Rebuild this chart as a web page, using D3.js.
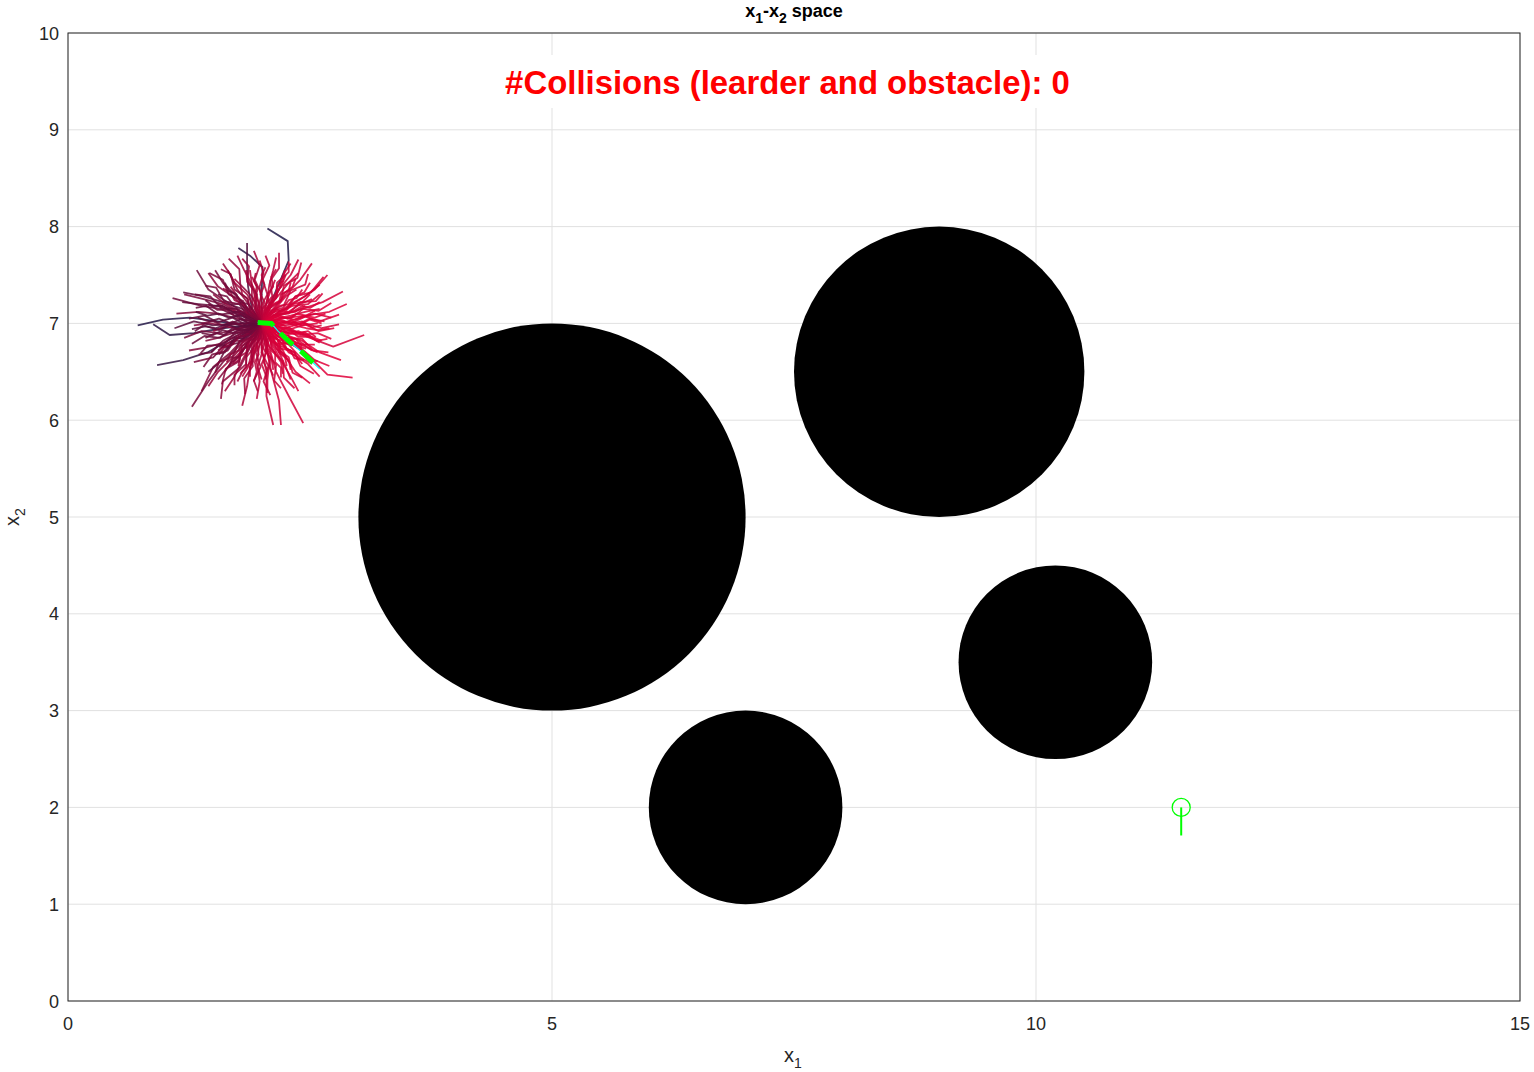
<!DOCTYPE html>
<html>
<head>
<meta charset="utf-8">
<script src="https://cdn.jsdelivr.net/npm/d3@7"></script>
<style>
html,body{margin:0;padding:0;background:#fff;}
svg{display:block;font-family:"Liberation Sans",Arial,Helvetica,sans-serif;}
</style>
</head>
<body>
<svg id="chart" width="1534" height="1072"></svg>
<script>
// ---------------- data ----------------
const xDomain = [0, 15];
const yDomain = [0, 10];
const xTicks = [0, 5, 10, 15];
const yTicks = [0, 1, 2, 3, 4, 5, 6, 7, 8, 9, 10];

// obstacles (circles)
const obstacleX = [5, 9, 10.2, 7];
const obstacleY = [5, 6.5, 3.5, 2];
const obstacleR = [2, 1.5, 1, 1];

// goal
const goalPoint = [11.5, 2.0];
const goalHeading = [11.5, 1.71];

// leader state (start of every sampled trajectory)
const startPoint = [2.0, 7.0];

// leader path (cyan) and predicted path (green dashed)
const leaderPathX = [1.96, 2.10, 2.17, 2.30, 2.42, 2.60];
const leaderPathY = [7.01, 7.00, 6.92, 6.80, 6.70, 6.53];

// colour stops for trajectory cost (low -> high)
const costColors = ["#e8003a", "#9a0439", "#560e3c", "#1a1a48"];

// sampled trajectories: [cost, x1,y1, x2,y2, ...]
const sampleTrajectories = [
  [0.08, 2.25,6.95, 2.50,6.85, 2.74,6.76, 3.06,6.88],
  [0.05, 2.20,7.05, 2.45,7.08, 2.70,7.12, 2.88,7.20],
  [0.10, 2.22,6.98, 2.45,7.00, 2.62,6.95, 2.80,6.99],
  [0.03, 2.20,6.90, 2.42,6.82, 2.60,6.70, 2.82,6.62],
  [0.06, 2.18,6.92, 2.40,6.88, 2.58,6.90, 2.72,6.84],
  [0.04, 2.20,6.85, 2.45,6.70, 2.68,6.47, 2.94,6.44],
  [0.08, 2.18,7.08, 2.42,7.15, 2.63,7.22, 2.84,7.33],
  [0.10, 2.20,7.12, 2.40,7.25, 2.55,7.35, 2.68,7.50],
  [0.12, 2.12,7.15, 2.25,7.30, 2.40,7.45, 2.52,7.62],
  [0.15, 2.10,7.18, 2.18,7.35, 2.30,7.50, 2.38,7.66],
  [0.10, 2.15,7.10, 2.30,7.20, 2.45,7.28, 2.60,7.40],
  [0.07, 2.20,7.00, 2.38,7.05, 2.55,7.10, 2.72,7.06],
  [0.05, 2.15,6.85, 2.30,6.70, 2.48,6.58, 2.60,6.45],
  [0.06, 2.12,6.82, 2.25,6.65, 2.35,6.50, 2.50,6.38],
  [0.03, 2.20,6.88, 2.40,6.75, 2.55,6.62, 2.70,6.56],
  [0.08, 2.10,6.80, 2.20,6.62, 2.30,6.45, 2.38,6.30],
  [0.10, 2.08,6.75, 2.15,6.50, 2.28,6.25, 2.43,5.97],
  [0.12, 2.05,6.75, 2.10,6.50, 2.18,6.20, 2.20,5.95],
  [0.15, 2.00,6.75, 2.05,6.50, 2.05,6.25, 2.12,5.95],
  [0.12, 2.05,6.80, 2.08,6.60, 2.06,6.42, 2.06,6.28],
  [0.18, 1.98,6.80, 1.95,6.60, 1.98,6.40, 1.95,6.22],
  [0.30, 1.90,6.80, 1.80,6.62, 1.72,6.45, 1.62,6.30],
  [0.35, 1.85,6.82, 1.70,6.65, 1.55,6.50, 1.45,6.35],
  [0.40, 1.88,6.75, 1.78,6.55, 1.60,6.40, 1.58,6.22],
  [0.45, 1.82,6.85, 1.68,6.70, 1.50,6.55, 1.38,6.30],
  [0.50, 1.80,6.80, 1.60,6.60, 1.45,6.40, 1.28,6.14],
  [0.25, 1.95,6.78, 1.88,6.55, 1.85,6.35, 1.80,6.15],
  [0.30, 1.92,6.80, 1.90,6.62, 1.80,6.50, 1.75,6.40],
  [0.95, 1.70,7.00, 1.26,7.06, 0.98,7.04, 0.72,6.98],
  [0.90, 1.60,6.95, 1.30,6.90, 1.05,6.88, 0.88,6.99],
  [0.85, 1.70,6.85, 1.44,6.70, 1.19,6.62, 0.92,6.57],
  [0.50, 1.78,6.95, 1.58,6.90, 1.38,6.92, 1.20,6.85],
  [0.45, 1.75,7.05, 1.55,7.10, 1.35,7.12, 1.12,7.10],
  [0.50, 1.78,7.10, 1.60,7.20, 1.40,7.25, 1.20,7.30],
  [0.55, 1.80,7.12, 1.60,7.25, 1.45,7.35, 1.33,7.55],
  [0.45, 1.80,6.90, 1.60,6.80, 1.42,6.75, 1.25,6.72],
  [0.40, 1.82,7.00, 1.62,6.98, 1.45,7.00, 1.30,6.98],
  [0.50, 1.80,6.88, 1.62,6.78, 1.50,6.65, 1.30,6.60],
  [0.55, 1.78,7.05, 1.58,7.15, 1.38,7.18, 1.08,7.26],
  [0.60, 1.80,7.15, 1.60,7.22, 1.40,7.28, 1.19,7.32],
  [0.97, 2.12,7.27, 2.28,7.65, 2.27,7.85, 2.06,7.98],
  [0.92, 2.00,7.30, 2.01,7.58, 1.88,7.70, 1.76,7.78],
  [0.70, 1.90,7.15, 1.86,7.38, 1.85,7.60, 1.85,7.83],
  [0.30, 1.95,7.20, 1.90,7.40, 1.82,7.55, 1.75,7.70],
  [0.20, 2.05,7.20, 2.08,7.40, 2.12,7.55, 2.15,7.68],
  [0.35, 1.88,7.18, 1.75,7.35, 1.68,7.50, 1.60,7.62],
  [0.25, 2.00,7.20, 1.98,7.38, 2.02,7.52, 1.98,7.65],
  [0.18, 2.08,7.18, 2.18,7.35, 2.22,7.50, 2.30,7.62],
  [0.40, 1.85,7.15, 1.70,7.28, 1.55,7.38, 1.45,7.52],
  [0.30, 1.92,7.18, 1.85,7.30, 1.72,7.42, 1.65,7.55],
  [0.10, 2.10,7.05, 2.22,7.10, 2.35,7.12, 2.45,7.18],
  [0.05, 2.12,6.95, 2.25,6.90, 2.38,6.92, 2.50,6.86],
  [0.08, 2.10,6.90, 2.20,6.80, 2.32,6.78, 2.45,6.70],
  [0.12, 2.08,7.10, 2.18,7.20, 2.25,7.28, 2.36,7.35],
  [0.15, 2.02,7.12, 2.06,7.25, 2.10,7.35, 2.14,7.45],
  [0.20, 1.95,7.12, 1.92,7.25, 1.95,7.38, 1.90,7.48],
  [0.30, 1.90,7.10, 1.82,7.20, 1.75,7.28, 1.68,7.38],
  [0.35, 1.88,7.05, 1.78,7.10, 1.66,7.15, 1.55,7.20],
  [0.35, 1.88,6.98, 1.75,6.95, 1.62,6.97, 1.50,6.92],
  [0.40, 1.90,6.92, 1.78,6.85, 1.66,6.80, 1.55,6.72],
  [0.30, 1.92,6.88, 1.85,6.78, 1.78,6.68, 1.70,6.60],
  [0.20, 1.98,6.88, 1.95,6.75, 1.90,6.65, 1.88,6.52],
  [0.12, 2.04,6.88, 2.06,6.75, 2.10,6.65, 2.12,6.52],
  [0.08, 2.08,6.90, 2.15,6.80, 2.22,6.72, 2.28,6.60],
  [0.06, 2.10,6.95, 2.22,6.86, 2.35,6.84, 2.42,6.76],
  [0.05, 2.15,7.00, 2.28,7.02, 2.42,6.98, 2.58,7.00],
  [0.10, 2.12,7.08, 2.28,7.12, 2.40,7.20, 2.52,7.25],
  [0.15, 2.05,7.15, 2.12,7.28, 2.20,7.38, 2.25,7.50],
  [0.25, 1.98,7.15, 1.95,7.30, 1.90,7.40, 1.88,7.55],
  [0.40, 1.85,7.10, 1.72,7.15, 1.60,7.22, 1.50,7.30],
  [0.45, 1.85,6.95, 1.70,6.90, 1.55,6.85, 1.42,6.82],
  [0.35, 1.90,6.85, 1.80,6.72, 1.70,6.62, 1.62,6.50],
  [0.20, 2.00,6.82, 2.00,6.68, 1.96,6.55, 2.00,6.42],
  [0.10, 2.08,6.85, 2.12,6.72, 2.20,6.60, 2.22,6.48],
  [0.04, 2.18,6.90, 2.32,6.82, 2.45,6.76, 2.58,6.70],
  [0.06, 2.20,7.02, 2.35,6.98, 2.50,7.05, 2.65,7.02],
  [0.08, 2.18,7.12, 2.32,7.18, 2.48,7.20, 2.60,7.30],
  [0.12, 2.10,7.20, 2.20,7.32, 2.28,7.42, 2.38,7.52],
  [0.50, 1.82,7.20, 1.70,7.32, 1.60,7.42, 1.52,7.55],
  [0.55, 1.75,6.90, 1.60,6.82, 1.48,6.70, 1.35,6.68],
  [0.60, 1.75,6.85, 1.62,6.72, 1.55,6.58, 1.45,6.50],
  [0.45, 1.85,6.80, 1.76,6.65, 1.65,6.55, 1.55,6.42],
  [0.20, 1.95,6.85, 1.90,6.70, 1.86,6.55, 1.80,6.45],
  [0.15, 2.02,6.85, 2.05,6.70, 2.00,6.58, 2.05,6.45],
  [0.10, 2.10,6.82, 2.18,6.70, 2.25,6.55, 2.30,6.42],
  [0.05, 2.15,6.88, 2.28,6.78, 2.40,6.65, 2.52,6.58],
  [0.06, 2.18,6.95, 2.32,6.92, 2.48,6.88, 2.62,6.82],
  [0.08, 2.15,7.05, 2.30,7.08, 2.45,7.12, 2.60,7.15],
  [0.65, 1.72,7.00, 1.50,6.98, 1.30,7.02, 1.10,6.95],
  [0.60, 1.75,7.10, 1.55,7.18, 1.35,7.20, 1.18,7.22],
  [0.02, 2.10,7.02, 2.20,6.98, 2.30,7.03, 2.40,6.99, 2.50,7.04, 2.62,7.00],
  [0.04, 2.10,6.96, 2.20,6.93, 2.28,6.96, 2.38,6.90, 2.48,6.92, 2.56,6.86],
  [0.03, 2.08,7.05, 2.18,7.08, 2.27,7.05, 2.36,7.10, 2.46,7.08, 2.55,7.13],
  [0.05, 2.10,6.92, 2.18,6.86, 2.27,6.88, 2.35,6.80, 2.44,6.78, 2.52,6.72],
  [0.06, 2.08,7.08, 2.16,7.14, 2.25,7.13, 2.32,7.20, 2.42,7.22, 2.50,7.30],
  [0.02, 2.12,6.98, 2.24,6.95, 2.34,6.98, 2.46,6.95, 2.58,6.93, 2.70,6.95],
  [0.05, 2.10,7.10, 2.18,7.18, 2.28,7.20, 2.35,7.28, 2.44,7.32, 2.50,7.42],
  [0.04, 2.08,6.88, 2.14,6.80, 2.22,6.78, 2.28,6.70, 2.36,6.66, 2.42,6.58],
  [0.07, 2.06,6.90, 2.10,6.82, 2.18,6.76, 2.20,6.68, 2.28,6.62, 2.30,6.52],
  [0.03, 2.12,7.03, 2.22,7.06, 2.34,7.04, 2.44,7.08, 2.55,7.06, 2.66,7.10],
  [0.06, 2.10,6.94, 2.20,6.90, 2.26,6.84, 2.36,6.84, 2.44,6.78, 2.55,6.78],
  [0.08, 2.06,7.12, 2.12,7.20, 2.20,7.24, 2.24,7.32, 2.32,7.38, 2.35,7.46],
  [0.05, 2.10,7.00, 2.20,7.04, 2.30,7.00, 2.42,7.02, 2.52,6.96, 2.62,6.98],
  [0.04, 2.10,6.98, 2.18,6.92, 2.30,6.92, 2.38,6.86, 2.50,6.86, 2.60,6.80],
  [0.06, 2.12,7.06, 2.22,7.12, 2.32,7.12, 2.42,7.18, 2.50,7.16, 2.60,7.22],
  [0.08, 2.07,6.88, 2.16,6.84, 2.20,6.74, 2.30,6.72, 2.34,6.64, 2.44,6.62],
  [0.10, 2.05,6.86, 2.08,6.76, 2.14,6.70, 2.14,6.60, 2.20,6.54, 2.20,6.44],
  [0.10, 2.05,7.12, 2.10,7.22, 2.16,7.28, 2.16,7.38, 2.22,7.44, 2.24,7.55],
  [0.15, 2.02,6.88, 2.00,6.78, 2.04,6.70, 2.02,6.60, 2.06,6.52, 2.04,6.42],
  [0.20, 1.98,6.88, 1.95,6.78, 1.97,6.68, 1.93,6.60, 1.95,6.50, 1.92,6.40],
  [0.18, 2.02,6.90, 2.06,6.80, 2.04,6.72, 2.09,6.64, 2.08,6.55, 2.12,6.46],
  [0.25, 1.96,6.90, 1.90,6.82, 1.90,6.72, 1.84,6.65, 1.84,6.55, 1.78,6.48],
  [0.22, 1.98,6.90, 1.96,6.80, 1.92,6.72, 1.92,6.62, 1.88,6.55, 1.88,6.45],
  [0.30, 1.94,6.90, 1.88,6.84, 1.85,6.76, 1.78,6.72, 1.76,6.62, 1.70,6.58],
  [0.22, 2.00,7.12, 2.03,7.22, 1.99,7.30, 2.03,7.40, 2.00,7.50, 2.04,7.58],
  [0.28, 1.96,7.10, 1.94,7.20, 1.90,7.28, 1.90,7.38, 1.85,7.45, 1.84,7.55],
  [0.18, 2.04,7.10, 2.08,7.20, 2.06,7.30, 2.12,7.38, 2.10,7.48, 2.15,7.56],
  [0.30, 1.94,7.08, 1.88,7.15, 1.86,7.25, 1.80,7.30, 1.78,7.40, 1.72,7.46],
  [0.25, 1.98,7.10, 1.98,7.20, 1.94,7.28, 1.96,7.36, 1.92,7.44, 1.94,7.52],
  [0.35, 1.92,7.06, 1.84,7.12, 1.80,7.20, 1.72,7.24, 1.68,7.32, 1.60,7.36],
  [0.50, 1.90,7.02, 1.80,6.98, 1.70,7.02, 1.60,6.98, 1.50,7.02, 1.38,7.00],
  [0.55, 1.90,6.96, 1.80,6.92, 1.72,6.94, 1.62,6.88, 1.52,6.90, 1.42,6.85],
  [0.50, 1.90,7.05, 1.82,7.10, 1.72,7.08, 1.64,7.14, 1.54,7.14, 1.45,7.20],
  [0.60, 1.90,6.92, 1.82,6.86, 1.76,6.80, 1.68,6.78, 1.62,6.70, 1.52,6.68],
  [0.55, 1.92,7.08, 1.84,7.14, 1.78,7.20, 1.70,7.20, 1.64,7.28, 1.55,7.30],
  [0.60, 1.88,7.00, 1.78,7.04, 1.68,7.00, 1.56,7.05, 1.46,7.02, 1.34,7.06],
  [0.58, 1.90,6.98, 1.80,6.95, 1.70,6.90, 1.60,6.93, 1.50,6.88, 1.38,6.90],
  [0.50, 1.92,6.94, 1.84,6.90, 1.80,6.82, 1.70,6.82, 1.64,6.75, 1.56,6.76],
  [0.65, 1.88,7.04, 1.78,7.08, 1.66,7.06, 1.56,7.10, 1.44,7.08, 1.32,7.12],
  [0.62, 1.90,6.90, 1.82,6.84, 1.72,6.85, 1.66,6.76, 1.56,6.78, 1.48,6.70],
  [0.55, 1.92,7.12, 1.86,7.20, 1.78,7.22, 1.74,7.30, 1.66,7.34, 1.62,7.42],
  [0.45, 1.94,6.86, 1.88,6.78, 1.82,6.74, 1.78,6.66, 1.70,6.64, 1.66,6.55],
  [0.68, 1.86,6.98, 1.74,6.96, 1.64,6.99, 1.52,6.95, 1.42,6.97, 1.28,6.94],
  [0.60, 1.88,7.06, 1.78,7.12, 1.70,7.12, 1.60,7.18, 1.50,7.18, 1.42,7.24],
  [0.10, 2.08,7.08, 2.14,7.14, 2.22,7.16, 2.28,7.24, 2.36,7.26, 2.42,7.35],
  [0.12, 2.06,7.10, 2.10,7.18, 2.18,7.22, 2.20,7.30, 2.28,7.34, 2.30,7.42],
  [0.35, 1.94,6.92, 1.88,6.85, 1.80,6.80, 1.76,6.72, 1.68,6.68, 1.64,6.60],
  [0.40, 1.92,6.94, 1.84,6.88, 1.76,6.86, 1.70,6.78, 1.62,6.76, 1.56,6.68],
  [0.30, 1.96,6.90, 1.92,6.82, 1.86,6.78, 1.84,6.70, 1.78,6.66, 1.76,6.56],
  [0.06, 2.08,6.92, 2.14,6.84, 2.22,6.82, 2.26,6.74, 2.34,6.70, 2.38,6.62],
  [0.08, 2.06,6.90, 2.10,6.82, 2.16,6.78, 2.18,6.70, 2.24,6.66, 2.26,6.56],
  [0.05, 2.10,6.94, 2.18,6.90, 2.24,6.84, 2.32,6.82, 2.38,6.76, 2.46,6.74],
  [0.05, 2.15,7.04, 2.30,7.00, 2.45,7.07, 2.60,7.02, 2.80,7.09],
  [0.06, 2.14,7.07, 2.30,7.05, 2.43,7.15, 2.59,7.13, 2.72,7.21],
  [0.08, 2.12,7.09, 2.28,7.10, 2.40,7.22, 2.56,7.23, 2.63,7.31],
  [0.10, 2.11,7.11, 2.26,7.15, 2.35,7.28, 2.51,7.32, 2.64,7.48],
  [0.12, 2.09,7.13, 2.23,7.19, 2.30,7.34, 2.45,7.40, 2.48,7.51],
  [0.14, 2.06,7.14, 2.20,7.23, 2.23,7.39, 2.37,7.47, 2.41,7.63],
  [0.16, 2.04,7.15, 2.15,7.26, 2.16,7.42, 2.28,7.53, 2.28,7.64],
  [0.20, 2.01,7.15, 2.11,7.28, 2.09,7.44, 2.18,7.57, 2.18,7.73],
  [0.22, 1.98,7.15, 2.06,7.30, 2.01,7.45, 2.08,7.60, 2.04,7.70],
  [0.28, 1.96,7.15, 2.00,7.30, 1.93,7.45, 1.98,7.60, 1.92,7.75],
  [0.32, 1.93,7.14, 1.95,7.30, 1.85,7.43, 1.87,7.59, 1.80,7.67],
  [0.38, 1.91,7.12, 1.90,7.28, 1.78,7.40, 1.77,7.56, 1.66,7.67],
  [0.42, 1.89,7.11, 1.85,7.26, 1.72,7.35, 1.68,7.51, 1.58,7.56],
  [0.48, 1.87,7.09, 1.81,7.23, 1.66,7.30, 1.60,7.45, 1.46,7.52],
  [0.52, 1.86,7.06, 1.77,7.20, 1.61,7.23, 1.53,7.37, 1.42,7.39],
  [0.55, 1.85,7.04, 1.74,7.15, 1.58,7.16, 1.47,7.28, 1.31,7.30],
  [0.58, 1.85,7.01, 1.72,7.11, 1.56,7.09, 1.43,7.18, 1.32,7.16],
  [0.60, 1.85,6.98, 1.70,7.06, 1.55,7.01, 1.41,7.08, 1.25,7.05],
  [0.60, 1.85,6.96, 1.70,7.00, 1.56,6.93, 1.40,6.98, 1.31,6.92],
  [0.58, 1.86,6.93, 1.70,6.95, 1.57,6.85, 1.41,6.87, 1.28,6.79],
  [0.55, 1.88,6.91, 1.72,6.90, 1.61,6.78, 1.44,6.77, 1.37,6.69],
  [0.50, 1.89,6.89, 1.74,6.85, 1.65,6.72, 1.49,6.68, 1.40,6.55],
  [0.45, 1.92,6.87, 1.77,6.81, 1.70,6.66, 1.56,6.60, 1.52,6.49],
  [0.40, 1.94,6.86, 1.80,6.77, 1.77,6.61, 1.63,6.53, 1.59,6.37],
  [0.35, 1.96,6.85, 1.85,6.74, 1.84,6.58, 1.72,6.47, 1.72,6.36],
  [0.30, 1.99,6.85, 1.89,6.72, 1.91,6.56, 1.82,6.43, 1.83,6.27],
  [0.25, 2.02,6.85, 1.94,6.70, 1.99,6.55, 1.92,6.41, 1.96,6.30],
  [0.18, 2.04,6.85, 2.00,6.70, 2.07,6.56, 2.02,6.40, 2.09,6.26],
  [0.14, 2.07,6.86, 2.05,6.70, 2.15,6.57, 2.13,6.41, 2.20,6.33],
  [0.10, 2.09,6.88, 2.10,6.72, 2.22,6.61, 2.23,6.44, 2.34,6.33],
  [0.08, 2.11,6.89, 2.15,6.74, 2.28,6.65, 2.32,6.49, 2.42,6.44],
  [0.05, 2.13,6.92, 2.19,6.77, 2.34,6.70, 2.40,6.56, 2.54,6.48],
  [0.04, 2.14,6.94, 2.23,6.80, 2.39,6.77, 2.47,6.63, 2.58,6.61],
  [0.03, 2.15,6.96, 2.26,6.85, 2.42,6.84, 2.53,6.72, 2.69,6.70],
  [0.03, 2.15,6.99, 2.28,6.89, 2.44,6.91, 2.57,6.82, 2.68,6.84],
  [0.04, 2.15,7.02, 2.30,6.94, 2.45,6.99, 2.59,6.92, 2.75,6.95]
];

const titleParts = ["x", "1", "-x", "2", " space"];
const collisionText = "#Collisions (learder and obstacle): 0";

// ---------------- drawing ----------------
const svg = d3.select("#chart");
const mLeft = 68, mRight = 1520, mTop = 33, mBottom = 1001;

const xS = d3.scaleLinear().domain(xDomain).range([mLeft, mRight]);
const yS = d3.scaleLinear().domain(yDomain).range([mBottom, mTop]);
const unitPx = xS(1) - xS(0);

const axisColor = "#262626";
const gridColor = "#e1e1e1";

// grid
const grid = svg.append("g");
grid.selectAll("line.gx").data(xTicks).join("line").attr("class", "gx")
  .attr("x1", d => xS(d)).attr("x2", d => xS(d))
  .attr("y1", mTop).attr("y2", mBottom)
  .attr("stroke", gridColor).attr("stroke-width", 1);
grid.selectAll("line.gy").data(yTicks).join("line").attr("class", "gy")
  .attr("x1", mLeft).attr("x2", mRight)
  .attr("y1", d => yS(d)).attr("y2", d => yS(d))
  .attr("stroke", gridColor).attr("stroke-width", 1);

// obstacles
svg.append("g").selectAll("circle").data(obstacleX.map((d, i) => i)).join("circle")
  .attr("cx", i => xS(obstacleX[i]))
  .attr("cy", i => yS(obstacleY[i]))
  .attr("r", i => obstacleR[i] * unitPx)
  .attr("fill", "#000");

// sampled trajectories (drawn in sampling order)
const color = d3.scaleLinear()
  .domain(d3.range(costColors.length).map(i => i / (costColors.length - 1)))
  .range(costColors)
  .interpolate(d3.interpolateRgb);
const line = d3.line().x(d => xS(d[0])).y(d => yS(d[1])).curve(d3.curveLinear);
const trajData = sampleTrajectories.map(t => {
  const pts = [startPoint.slice()];
  for (let k = 1; k < t.length; k += 2) pts.push([t[k], t[k + 1]]);
  return { cost: t[0], pts };
});

svg.append("g").selectAll("path").data(trajData).join("path")
  .attr("d", d => line(d.pts))
  .attr("fill", "none")
  .attr("stroke", d => color(d.cost))
  .attr("stroke-width", 1.8)
  .attr("stroke-opacity", 0.85)
  .attr("stroke-linejoin", "round");

// leader path
const leaderPts = leaderPathX.map((v, i) => [v, leaderPathY[i]]);
svg.append("path").attr("d", line(leaderPts))
  .attr("fill", "none").attr("stroke", "#00ffff").attr("stroke-width", 1.2);
svg.append("path").attr("d", line(leaderPts))
  .attr("fill", "none").attr("stroke", "#00ff00").attr("stroke-width", 5)
  .attr("stroke-dasharray", "17,10");

// goal
svg.append("line")
  .attr("x1", xS(goalPoint[0])).attr("y1", yS(goalPoint[1]))
  .attr("x2", xS(goalHeading[0])).attr("y2", yS(goalHeading[1]))
  .attr("stroke", "#00ff00").attr("stroke-width", 2);
svg.append("circle")
  .attr("cx", xS(goalPoint[0])).attr("cy", yS(goalPoint[1])).attr("r", 9)
  .attr("fill", "none").attr("stroke", "#00ff00").attr("stroke-width", 1.3);

// axes box
svg.append("rect").attr("x", mLeft).attr("y", mTop)
  .attr("width", mRight - mLeft).attr("height", mBottom - mTop)
  .attr("fill", "none").attr("stroke", axisColor).attr("stroke-width", 1);

// tick labels
svg.append("g").selectAll("text").data(xTicks).join("text")
  .attr("x", d => xS(d)).attr("y", mBottom + 29)
  .attr("text-anchor", "middle").attr("font-size", 18).attr("fill", axisColor)
  .text(d => d);
svg.append("g").selectAll("text").data(yTicks).join("text")
  .attr("x", mLeft - 9).attr("y", d => yS(d) + 6.5)
  .attr("text-anchor", "end").attr("font-size", 18).attr("fill", axisColor)
  .text(d => d);

// axis labels
const xl = svg.append("text").attr("x", xS(7.5) - 1).attr("y", 1062)
  .attr("text-anchor", "middle").attr("font-size", 20).attr("fill", axisColor);
xl.append("tspan").text("x");
xl.append("tspan").attr("font-size", 14).attr("dy", 6).text("1");

const yl = svg.append("text")
  .attr("transform", `translate(19,${yS(5)}) rotate(-90)`)
  .attr("text-anchor", "middle").attr("font-size", 20).attr("fill", axisColor);
yl.append("tspan").text("x");
yl.append("tspan").attr("font-size", 14).attr("dy", 6).text("2");

// title
const tt = svg.append("text").attr("x", xS(7.5)).attr("y", 17)
  .attr("text-anchor", "middle").attr("font-size", 18).attr("font-weight", "bold").attr("fill", "#000");
tt.append("tspan").text(titleParts[0]);
tt.append("tspan").attr("font-size", 14).attr("dy", 6).text(titleParts[1]);
tt.append("tspan").attr("dy", -6).text(titleParts[2]);
tt.append("tspan").attr("font-size", 14).attr("dy", 6).text(titleParts[3]);
tt.append("tspan").attr("dy", -6).text(titleParts[4]);

// collision text with white background
const cg = svg.append("g");
const bg = cg.append("rect").attr("fill", "#fff");
const ct = cg.append("text").attr("x", 787.5).attr("y", 94)
  .attr("text-anchor", "middle").attr("font-weight", "bold")
  .attr("font-size", 30).attr("fill", "#ff0000").text(collisionText);
const w0 = ct.node().getBBox().width;
ct.attr("font-size", 30 * 565 / w0);
const bb = ct.node().getBBox();
bg.attr("x", bb.x - 6).attr("y", 55).attr("width", bb.width + 12).attr("height", 53);
</script>
</body>
</html>
